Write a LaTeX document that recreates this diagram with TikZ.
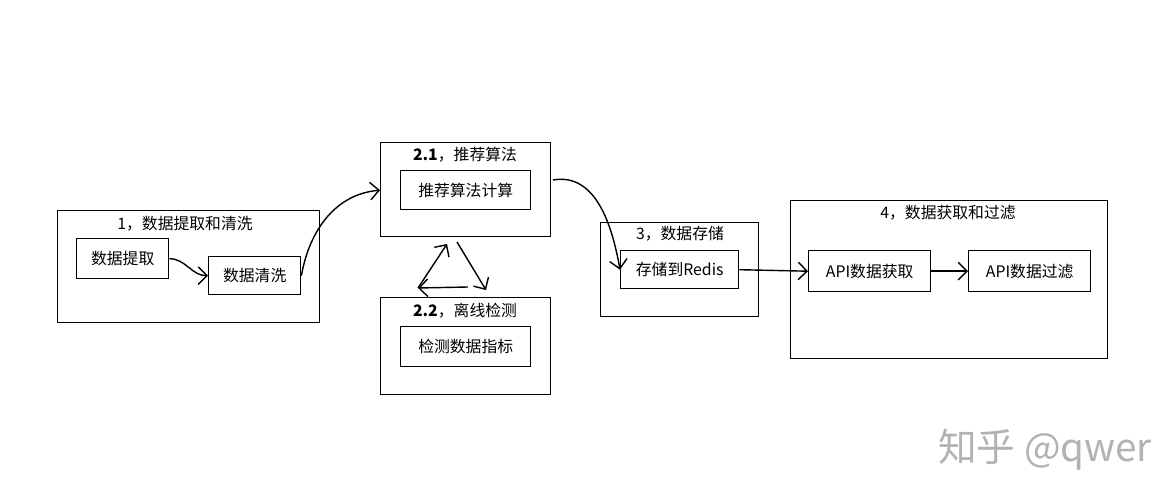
\documentclass[tikz,border=0pt]{standalone}
\usepackage{fontspec}
\setmainfont{Noto Sans CJK SC}
\usetikzlibrary{arrows.meta}
\tikzset{
  grp/.style={draw,thick,anchor=north west,inner sep=0pt},
  box/.style={draw,thick,anchor=north west,inner sep=0pt,font=\fontsize{9}{11}\selectfont},
  ttl/.style={font=\fontsize{9}{11}\selectfont},
  flow/.style={thick,-{Straight Barb[length=5pt]}}
}
\begin{document}
\begin{tikzpicture}[x=0.02cm,y=-0.02cm]
\useasboundingbox (0,0) rectangle (1173,500);
%--- group 1
\node[grp,minimum width=5.24cm,minimum height=2.24cm] (g1) at (57,210) {};
\node[ttl] (t1) at (185,224) {1，数据提取和清洗};
\node[box,minimum width=1.84cm,minimum height=0.8cm] (extract) at (76,238) {};
\node[ttl] at (extract.center) {数据提取};
\node[box,minimum width=1.84cm,minimum height=0.76cm] (clean) at (208,256) {};
\node[ttl] at (clean.center) {数据清洗};
%--- group 2.1
\node[grp,minimum width=3.4cm,minimum height=1.88cm] (g21) at (380,142) {};
\node[ttl] (t21) at (465,155) {\textbf{2.1}，推荐算法};
\node[box,minimum width=2.6cm,minimum height=0.78cm] (calc) at (400,170) {};
\node[ttl] at (calc.center) {推荐算法计算};
%--- group 2.2
\node[grp,minimum width=3.4cm,minimum height=1.94cm] (g22) at (380,297) {};
\node[ttl] (t22) at (465,311) {\textbf{2.2}，离线检测};
\node[box,minimum width=2.6cm,minimum height=0.8cm] (check) at (400,326) {};
\node[ttl] at (check.center) {检测数据指标};
%--- group 3
\node[grp,minimum width=3.16cm,minimum height=1.88cm] (g3) at (600,222) {};
\node[ttl] (t3) at (680,234) {3，数据存储};
\node[box,minimum width=2.36cm,minimum height=0.76cm] (store) at (620,250) {};
\node[ttl] at (store.center) {存储到Redis};
%--- group 4
\node[grp,minimum width=6.34cm,minimum height=3.16cm] (g4) at (790,200) {};
\node[ttl] (t4) at (948,213) {4，数据获取和过滤};
\node[box,minimum width=2.44cm,minimum height=0.82cm] (fetch) at (808,250) {};
\node[ttl] at (fetch.center) {API数据获取};
\node[box,minimum width=2.44cm,minimum height=0.82cm] (filter) at (968,250) {};
\node[ttl] at (filter.center) {API数据过滤};
%--- watermark
\node[text=gray!60,font=\fontsize{22}{26}\selectfont] (wm) at (1045,450) {知乎 @qwer};
%--- connectors
\coordinate (c1) at (553,180);
\draw[flow] (extract.east) to[out=0,in=180] (clean.west);
\draw[flow] (clean.east) to[out=80,in=185] (g21.west |- calc.west);
\draw[flow] (c1) to[out=10,in=100] (store.west);
\draw[flow] (store.east) -- (fetch.west);
\draw[flow] (fetch.east) -- (filter.west);
%--- cycle between 2.1 and 2.2
\coordinate (p1) at (457,242);
\coordinate (p2) at (486,290);
\coordinate (p3) at (468,287);
\coordinate (p4) at (418,288);
\coordinate (p5) at (447,244);
\draw[flow] (p1) -- (p2);
\draw[flow] (p3) -- (p4);
\draw[flow] (p4) -- (p5);
\end{tikzpicture}
\end{document}
